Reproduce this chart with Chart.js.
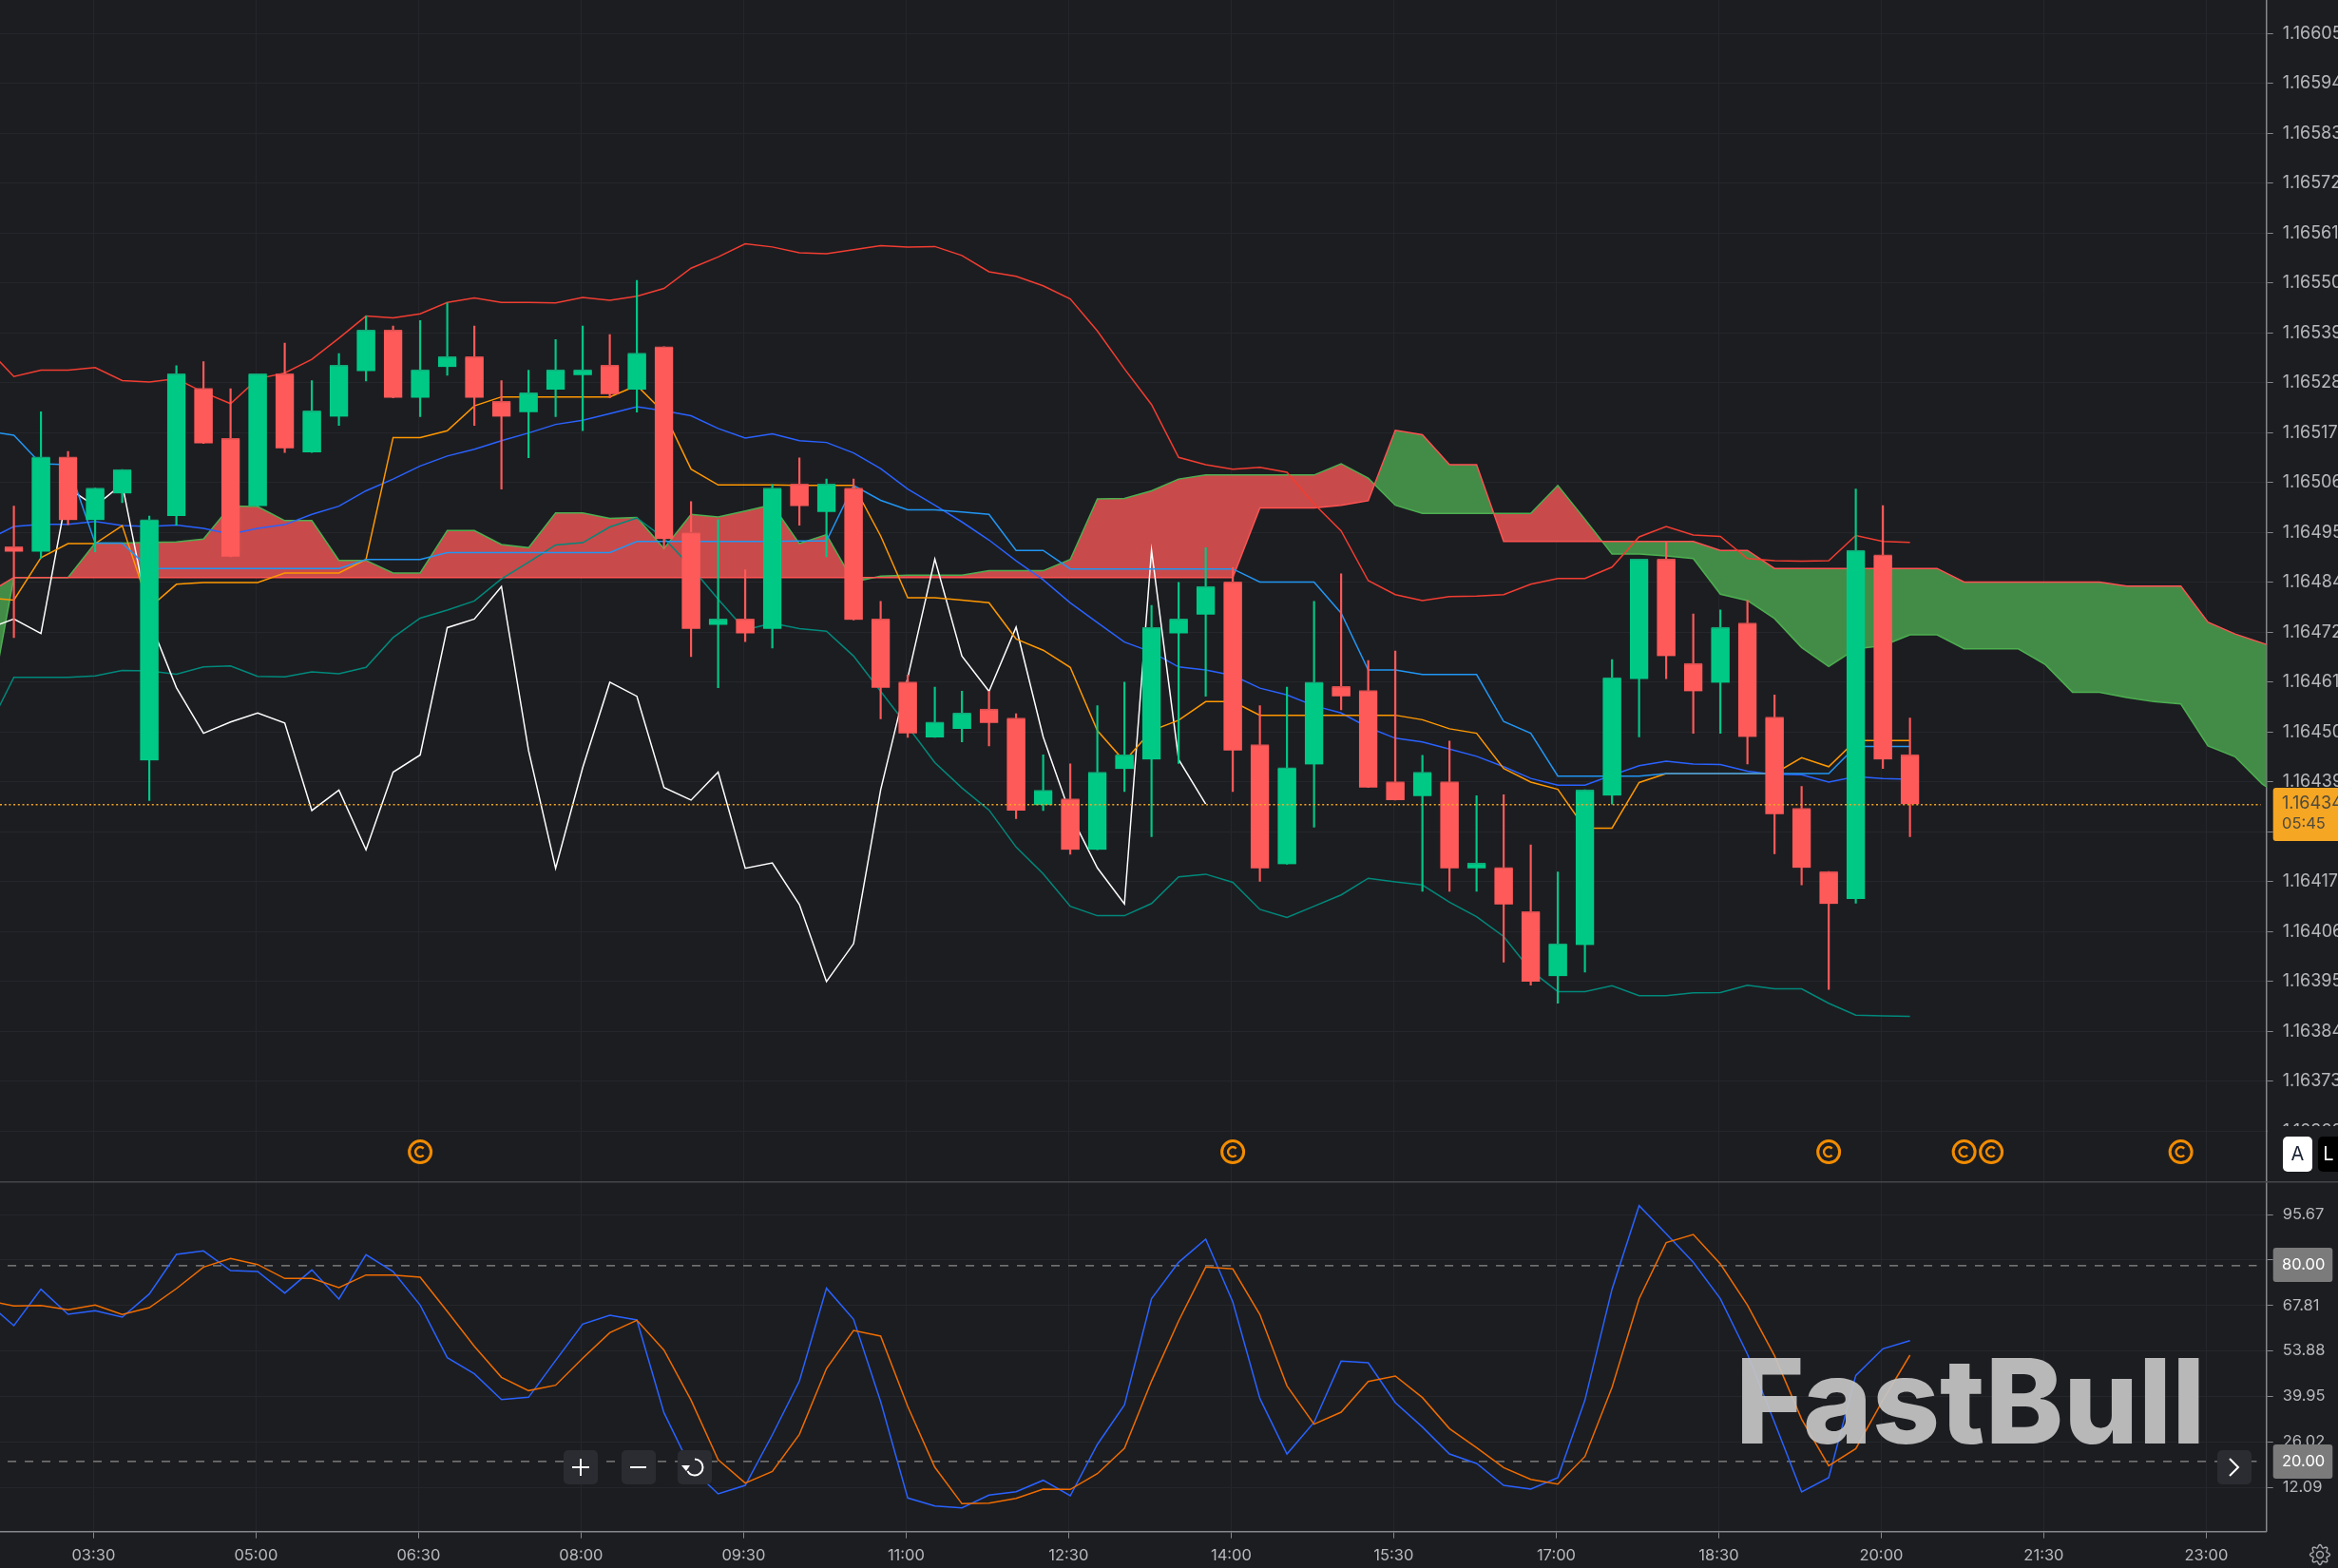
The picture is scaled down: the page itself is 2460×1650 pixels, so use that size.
<!DOCTYPE html>
<html>
<head>
<meta charset="utf-8">
<title>FastBull chart</title>
<script src="https://cdn.jsdelivr.net/npm/chart.js@4/dist/chart.umd.min.js"></script>
<style>
html,body{margin:0;padding:0;background:#1c1d21;overflow:hidden}
#wrap{position:relative;width:2460px;height:1650px}
canvas{position:absolute;left:0;display:block}
</style>
</head>
<body>
<div id="wrap">
<canvas id="price" width="2460" height="1243" style="top:0"></canvas>
<canvas id="osc" width="2460" height="407" style="top:1243px"></canvas>
</div>
<script>
// 15 minute bars, index 0 is the first candle on screen
var opens=[1.164914,1.164903,1.165113,1.164973,1.165032,1.164441,1.164982,1.165265,1.165154,1.165004,1.165297,1.165123,1.165202,1.165303,1.165394,1.165244,1.165312,1.165335,1.165236,1.165212,1.165262,1.165294,1.165316,1.165262,1.165357,1.164946,1.164741,1.164754,1.164732,1.165053,1.164991,1.165044,1.164754,1.164615,1.164492,1.164511,1.164555,1.164535,1.164342,1.164356,1.164243,1.164422,1.164443,1.164722,1.164764,1.164836,1.164476,1.164211,1.164432,1.164605,1.164596,1.164394,1.164362,1.164394,1.164202,1.164204,1.164106,1.163963,1.164032,1.164363,1.164621,1.164887,1.164656,1.164613,1.164745,1.164537,1.164335,1.164195,1.164134,1.164896,1.164454];
var closes=[1.164903,1.165113,1.164973,1.165044,1.165085,1.164974,1.165297,1.165143,1.164892,1.165297,1.165132,1.165215,1.165316,1.165394,1.165244,1.165306,1.165335,1.165244,1.165202,1.165255,1.165306,1.165306,1.165252,1.165343,1.164931,1.164732,1.164754,1.164722,1.165044,1.165004,1.165053,1.164752,1.164602,1.164501,1.164526,1.164546,1.164524,1.164330,1.164375,1.164243,1.164415,1.164453,1.164735,1.164754,1.164826,1.164463,1.164202,1.164425,1.164614,1.164583,1.164381,1.164353,1.164415,1.164202,1.164214,1.164122,1.163951,1.164035,1.164376,1.164624,1.164887,1.164672,1.164594,1.164736,1.164493,1.164322,1.164203,1.164123,1.164906,1.164443,1.164344];
var highs=[1.165004,1.165213,1.165125,1.165044,1.165085,1.164982,1.165315,1.165324,1.165264,1.165297,1.165365,1.165282,1.165342,1.165425,1.165403,1.165415,1.165454,1.165403,1.165282,1.165305,1.165373,1.165403,1.165384,1.165504,1.165357,1.165014,1.164974,1.164863,1.165052,1.165111,1.165064,1.165064,1.164793,1.164630,1.164603,1.164594,1.164594,1.164544,1.164453,1.164433,1.164562,1.164614,1.164784,1.164835,1.164912,1.164868,1.164562,1.164603,1.164793,1.164854,1.164662,1.164683,1.164452,1.164484,1.164363,1.164365,1.164254,1.164194,1.164376,1.164664,1.164887,1.164925,1.164765,1.164774,1.164795,1.164586,1.164383,1.164195,1.165042,1.165005,1.164535];
var lows=[1.164713,1.164888,1.164963,1.164903,1.165012,1.164352,1.164962,1.165143,1.164892,1.165004,1.165123,1.165123,1.165183,1.165281,1.165244,1.165202,1.165294,1.165183,1.165042,1.165111,1.165202,1.165171,1.165244,1.165212,1.164910,1.164671,1.164602,1.164704,1.164690,1.164962,1.164892,1.164752,1.164533,1.164492,1.164492,1.164482,1.164473,1.164312,1.164330,1.164233,1.164243,1.164372,1.164272,1.164434,1.164583,1.164372,1.164173,1.164211,1.164293,1.164553,1.164381,1.164353,1.164151,1.164151,1.164151,1.163994,1.163943,1.163903,1.163972,1.164344,1.164493,1.164622,1.164501,1.164501,1.164433,1.164234,1.164165,1.163934,1.164125,1.164423,1.164272];

// indicator lines start one bar before the first candle (bar -1)
var bbUpper=[1.165354,1.165291,1.165305,1.165305,1.165311,1.165282,1.165279,1.165286,1.165256,1.165231,1.165286,1.165299,1.165329,1.165376,1.165425,1.165421,1.165430,1.165455,1.165465,1.165455,1.165455,1.165454,1.165466,1.165460,1.165469,1.165486,1.165531,1.165556,1.165585,1.165578,1.165565,1.165563,1.165572,1.165581,1.165578,1.165579,1.165559,1.165523,1.165513,1.165492,1.165463,1.165392,1.165308,1.165229,1.165112,1.165096,1.165086,1.165090,1.165079,1.165009,1.164949,1.164839,1.164808,1.164795,1.164804,1.164805,1.164808,1.164831,1.164844,1.164844,1.164869,1.164936,1.164959,1.164940,1.164937,1.164888,1.164883,1.164882,1.164883,1.164939,1.164926,1.164924];
var bbMiddle=[1.164929,1.164959,1.164964,1.164964,1.164970,1.164961,1.164959,1.164962,1.164955,1.164942,1.164955,1.164963,1.164986,1.165004,1.165038,1.165064,1.165093,1.165115,1.165130,1.165149,1.165166,1.165185,1.165194,1.165209,1.165224,1.165215,1.165204,1.165176,1.165155,1.165164,1.165149,1.165145,1.165122,1.165087,1.165042,1.165006,1.164969,1.164929,1.164883,1.164841,1.164790,1.164746,1.164703,1.164681,1.164648,1.164641,1.164629,1.164601,1.164586,1.164562,1.164546,1.164514,1.164490,1.164482,1.164466,1.164450,1.164427,1.164401,1.164386,1.164386,1.164408,1.164429,1.164439,1.164433,1.164432,1.164417,1.164410,1.164409,1.164393,1.164405,1.164401,1.164399];
var bbLower=[1.164505,1.164625,1.164625,1.164625,1.164628,1.164640,1.164639,1.164632,1.164648,1.164650,1.164627,1.164626,1.164637,1.164633,1.164647,1.164713,1.164756,1.164774,1.164794,1.164843,1.164880,1.164918,1.164923,1.164958,1.164978,1.164933,1.164869,1.164798,1.164730,1.164745,1.164733,1.164727,1.164672,1.164594,1.164516,1.164436,1.164380,1.164331,1.164249,1.164190,1.164118,1.164097,1.164097,1.164124,1.164183,1.164189,1.164171,1.164111,1.164093,1.164118,1.164143,1.164180,1.164172,1.164165,1.164127,1.164095,1.164051,1.163976,1.163929,1.163929,1.163942,1.163920,1.163920,1.163926,1.163927,1.163943,1.163935,1.163935,1.163903,1.163877,1.163875,1.163874];
var conversion=[1.165170,1.165161,1.165098,1.165096,1.164922,1.164922,1.164866,1.164866,1.164866,1.164866,1.164866,1.164866,1.164866,1.164866,1.164886,1.164886,1.164886,1.164901,1.164901,1.164901,1.164901,1.164901,1.164901,1.164901,1.164926,1.164926,1.164926,1.164926,1.164926,1.164926,1.164927,1.164927,1.165050,1.165017,1.164996,1.164996,1.164991,1.164986,1.164906,1.164906,1.164865,1.164865,1.164865,1.164865,1.164865,1.164865,1.164865,1.164836,1.164836,1.164836,1.164767,1.164641,1.164641,1.164631,1.164631,1.164631,1.164527,1.164501,1.164406,1.164406,1.164406,1.164406,1.164412,1.164412,1.164412,1.164412,1.164412,1.164412,1.164412,1.164472,1.164472,1.164472];
var baseLine=[1.164801,1.164796,1.164890,1.164921,1.164921,1.164961,1.164779,1.164831,1.164835,1.164835,1.164835,1.164856,1.164856,1.164856,1.164886,1.165156,1.165156,1.165171,1.165226,1.165246,1.165246,1.165246,1.165246,1.165246,1.165271,1.165211,1.165086,1.165051,1.165051,1.165051,1.165050,1.165050,1.165050,1.164938,1.164801,1.164801,1.164796,1.164790,1.164710,1.164685,1.164647,1.164507,1.164439,1.164507,1.164530,1.164571,1.164571,1.164541,1.164541,1.164541,1.164541,1.164541,1.164541,1.164531,1.164511,1.164501,1.164423,1.164393,1.164377,1.164291,1.164291,1.164392,1.164412,1.164412,1.164412,1.164412,1.164412,1.164447,1.164427,1.164485,1.164485,1.164485];
var lagging=[1.164732,1.164754,1.164722,1.165044,1.165004,1.165053,1.164752,1.164602,1.164501,1.164526,1.164546,1.164524,1.164330,1.164375,1.164243,1.164415,1.164453,1.164735,1.164754,1.164826,1.164463,1.164202,1.164425,1.164614,1.164583,1.164381,1.164353,1.164415,1.164202,1.164214,1.164122,1.163951,1.164035,1.164376,1.164624,1.164887,1.164672,1.164594,1.164736,1.164493,1.164322,1.164203,1.164123,1.164906,1.164443,1.164344];
// cloud runs on past the last candle, to bar 84
var spanA=[1.164520,1.164846,1.164846,1.164846,1.164922,1.164922,1.164924,1.164925,1.164931,1.165004,1.165003,1.164972,1.164972,1.164884,1.164884,1.164856,1.164856,1.164950,1.164950,1.164919,1.164912,1.164989,1.164989,1.164977,1.164979,1.164910,1.164986,1.164980,1.164993,1.165007,1.164921,1.164941,1.164836,1.164849,1.164851,1.164851,1.164851,1.164861,1.164861,1.164861,1.164886,1.165020,1.165021,1.165038,1.165064,1.165073,1.165073,1.165073,1.165073,1.165073,1.165098,1.165066,1.165006,1.164988,1.164988,1.164988,1.164988,1.164988,1.165050,1.164975,1.164898,1.164898,1.164894,1.164888,1.164809,1.164795,1.164755,1.164691,1.164649,1.164688,1.164695,1.164719,1.164719,1.164688,1.164688,1.164688,1.164653,1.164592,1.164592,1.164580,1.164571,1.164566,1.164473,1.164449,1.164389,1.164348];
var spanB=[1.164810,1.164846,1.164846,1.164846,1.164846,1.164846,1.164846,1.164846,1.164846,1.164846,1.164846,1.164846,1.164846,1.164846,1.164846,1.164846,1.164846,1.164846,1.164846,1.164846,1.164846,1.164846,1.164846,1.164846,1.164846,1.164846,1.164846,1.164846,1.164846,1.164846,1.164846,1.164846,1.164846,1.164846,1.164846,1.164846,1.164846,1.164846,1.164846,1.164846,1.164846,1.164846,1.164846,1.164846,1.164846,1.164846,1.164846,1.165000,1.165000,1.165000,1.165006,1.165016,1.165172,1.165162,1.165096,1.165096,1.164926,1.164926,1.164926,1.164926,1.164926,1.164926,1.164926,1.164926,1.164906,1.164906,1.164866,1.164866,1.164866,1.164866,1.164866,1.164866,1.164866,1.164836,1.164836,1.164836,1.164836,1.164836,1.164836,1.164827,1.164827,1.164827,1.164747,1.164721,1.164701,1.164680];

// stochastic pane, also from bar -1
var stochK=[68.89,61.61,72.77,65.10,66.17,64.23,71.32,83.46,84.52,78.50,78.21,71.61,78.70,69.76,83.36,78.21,67.92,51.80,46.85,38.98,39.66,50.93,62.09,64.81,63.36,34.91,17.91,10.05,12.67,28.11,44.62,73.07,63.55,38.30,8.79,6.36,5.78,9.66,10.73,14.22,9.47,25.20,37.33,69.86,81.03,88.12,68.89,39.28,22.28,31.99,50.73,50.25,38.01,30.54,22.28,19.37,12.67,11.50,15.00,38.79,72.77,98.41,89.77,81.03,69.86,52.87,31.99,10.63,15.00,46.36,54.52,57.04];
var stochD=[69.38,67.63,67.82,66.46,67.92,65.01,67.14,72.97,79.57,82.19,80.35,76.08,76.08,73.26,77.14,77.14,76.46,65.98,55.30,45.78,41.70,43.35,51.61,59.47,63.26,54.13,38.79,20.54,13.35,16.94,28.30,48.50,60.15,58.40,36.85,18.20,7.04,7.23,8.69,11.50,11.41,16.26,24.03,44.62,63.06,79.57,78.99,65.01,43.16,31.41,35.10,44.52,46.17,39.57,30.05,24.22,18.11,14.51,13.06,21.51,42.67,69.86,87.05,89.57,80.54,67.92,52.38,32.96,18.69,23.93,38.79,52.58];
var stochLevels=[80,20];

var priceTicks=[1.16605,1.165940,1.165829,1.165719,1.165608,1.165498,1.165387,1.165277,1.165166,1.165056,1.164946,1.164836,1.164724,1.164614,1.164503,1.164393,1.164282,1.164172,1.164061,1.163951,1.163840,1.163730,1.163619];
var stochTicks=[95.67,81.74,67.81,53.88,39.95,26.02,12.09];
var timeLabels=['03:30','05:00','06:30','08:00','09:30','11:00','12:30','14:00','15:30','17:00','18:30','20:00','21:30','23:00'];
var timeBars=[2.94,8.94,14.94,20.94,26.94,32.94,38.94,44.94,50.94,56.94,62.94,68.94,74.94,80.94];
var eventBars=[15,45,67,72,73,80];
var eventPrice=1.163574;
var lastPrice=1.164343;

var BG='#1c1d21',GRID='#25262b',AXIS='#85878c',TEXT='#b6b8bc',UP='#00c986',DOWN='#ff5a5a',UPEDGE='#12a877',DOWNEDGE='#d94f4f';
var FONT='Inter, Roboto, sans-serif';
var XMIN=-0.5123,XMAX=83.16;

function pts(vals,start){
    return vals.map(function(v,i){return {x:i+start,y:v};});
}
function line(label,vals,color,order){
    return {type:'line',label:label,data:pts(vals,-1),borderColor:color,borderWidth:1.5,pointRadius:0,fill:false,tension:0,order:order};
}
function xAxis(showLabels){
    return {
        type:'linear',min:XMIN,max:XMAX,offset:false,
        grid:{offset:false,color:GRID,lineWidth:1,drawTicks:showLabels,tickLength:7,tickColor:AXIS},
        border:{display:showLabels,color:AXIS,width:1.5},
        ticks:{display:showLabels,color:TEXT,font:{family:FONT,size:16.5},padding:8,maxRotation:0,autoSkip:false,
            callback:function(v,i){return timeLabels[i];}},
        afterBuildTicks:function(s){s.ticks=timeBars.map(function(b){return {value:b};});},
        afterFit:function(s){s.height=showLabels?38.3:0;s.paddingLeft=0;s.paddingRight=0;}
    };
}
function yAxis(min,max,list,size,fmt){
    return {
        position:'right',min:min,max:max,
        grid:{color:GRID,lineWidth:1,tickLength:7,tickColor:AXIS},
        border:{color:AXIS,width:1.5},
        ticks:{color:TEXT,font:{family:FONT,size:size},padding:10,autoSkip:false,callback:fmt},
        afterBuildTicks:function(s){s.ticks=list.map(function(v){return {value:v};});},
        afterFit:function(s){s.width=75.3;s.paddingTop=0;s.paddingBottom=0;}
    };
}
function box(ctx,x,y,w,h,r,color){
    ctx.fillStyle=color;
    ctx.beginPath();
    ctx.roundRect(x,y,w,h,r);
    ctx.fill();
}

var priceOverlay={
    id:'priceOverlay',
    afterDraw:function(chart){
        var ctx=chart.ctx,sx=chart.scales.x,sy=chart.scales.y;
        ctx.save();
        eventBars.forEach(function(b){
            var x=sx.getPixelForValue(b),y=sy.getPixelForValue(eventPrice);
            ctx.strokeStyle='#f28c00';
            ctx.lineWidth=3;
            ctx.beginPath();ctx.arc(x,y,11.5,0,Math.PI*2);ctx.stroke();
            ctx.lineWidth=2.5;
            ctx.beginPath();ctx.arc(x,y,5,Math.PI*0.25,Math.PI*1.75,false);ctx.stroke();
        });
        // hide the cut off tick label behind the A / L buttons
        ctx.fillStyle=BG;
        ctx.fillRect(2386,1185,74,58);
        box(ctx,2402,1196,31,37,5,'#ffffff');
        box(ctx,2439,1196,40,37,5,'#000000');
        ctx.font='20px '+FONT;
        ctx.textBaseline='middle';
        ctx.textAlign='center';
        ctx.fillStyle='#1a2233';
        ctx.fillText('A',2417.5,1215);
        ctx.fillStyle='#ffffff';
        ctx.fillText('L',2450,1215);
        // last price tag
        box(ctx,2391.7,829,80,56,3,'#f5a623');
        ctx.textAlign='left';
        ctx.fillStyle='#4f4a3c';
        ctx.font='18px '+FONT;
        ctx.fillText(lastPrice.toFixed(5),2401,846);
        ctx.font='16.5px '+FONT;
        ctx.fillText('05:45',2401,867);
        ctx.restore();
    }
};

var oscOverlay={
    id:'oscOverlay',
    afterDraw:function(chart){
        var ctx=chart.ctx,top=1243;
        ctx.save();
        // watermark sits over the lines
        ctx.fillStyle='rgba(196,196,196,0.93)';
        ctx.font='800 124px Inter, sans-serif';
        ctx.textAlign='left';
        ctx.textBaseline='alphabetic';
        ctx.fillText('FastBull',1826,1519-top,498);
        // separator between the panes
        ctx.fillStyle='#45464b';
        ctx.fillRect(0,0,2460,1.5);
        // level tags
        [[1313,'80.00'],[1520,'20.00']].forEach(function(t){
            box(ctx,2391.7,t[0]-top,62.6,36,3,'#7b7b7b');
            ctx.fillStyle='#ffffff';
            ctx.font='16.5px '+FONT;
            ctx.textBaseline='middle';
            ctx.fillText(t[1],2401,t[0]-top+18);
        });
        // zoom buttons
        [593,654,713,2333].forEach(function(x){
            box(ctx,x,1526-top,36,36,5,'#2b2c31');
        });
        var my=1544-top;
        ctx.strokeStyle='#ffffff';
        ctx.lineWidth=2;
        ctx.beginPath();
        ctx.moveTo(602,my);ctx.lineTo(620,my);ctx.moveTo(611,my-9);ctx.lineTo(611,my+9);
        ctx.moveTo(663,my);ctx.lineTo(680,my);
        ctx.moveTo(2346,my-9);ctx.lineTo(2355,my);ctx.lineTo(2346,my+9);
        ctx.stroke();
        ctx.beginPath();
        ctx.arc(731,my,8.5,-Math.PI*0.5,Math.PI*0.85,false);
        ctx.stroke();
        ctx.fillStyle='#ffffff';
        ctx.beginPath();
        ctx.moveTo(717,my-2);ctx.lineTo(726,my-2);ctx.lineTo(722,my+4);ctx.closePath();
        ctx.fill();
        // settings gear
        var gx=2441,gy=1636-top;
        ctx.strokeStyle='#a9abb0';
        ctx.lineWidth=1.4;
        ctx.beginPath();
        for(var a=0;a<=96;a++){
            var ang=a/96*Math.PI*2,r=9+1.5*Math.cos(ang*8);
            var px=gx+Math.cos(ang)*r,py=gy+Math.sin(ang)*r;
            if(a===0){ctx.moveTo(px,py);}else{ctx.lineTo(px,py);}
        }
        ctx.closePath();
        ctx.stroke();
        ctx.beginPath();ctx.arc(gx,gy,3.5,0,Math.PI*2);ctx.stroke();
        ctx.restore();
    }
};

var barColors=closes.map(function(c,i){return c>=opens[i]?UP:DOWN;});
var edgeColors=closes.map(function(c,i){return c>=opens[i]?UPEDGE:DOWNEDGE;});

new Chart(document.getElementById('price').getContext('2d'),{
    data:{datasets:[
        {type:'line',label:'Span A',data:pts(spanA,-1),borderColor:'#4caf50',borderWidth:1.5,pointRadius:0,tension:0,order:9,
            fill:{target:1,above:'#c94a4a',below:'#438c47'}},
        {type:'line',label:'Span B',data:pts(spanB,-1),borderColor:'#ff5252',borderWidth:1.5,pointRadius:0,tension:0,fill:false,order:8},
        line('Upper',bbUpper,'#f23d31',6),
        line('Middle',bbMiddle,'#2962ff',6),
        line('Lower',bbLower,'#00897b',6),
        line('Conversion',conversion,'#2196f3',5),
        line('Base',baseLine,'#ff9800',5),
        line('Lagging',lagging,'#ffffff',5),
        {type:'bar',label:'Wick',data:lows.map(function(v,i){return {x:i,y:[v,highs[i]]};}),backgroundColor:barColors,barThickness:1.5,grouped:false,order:3},
        {type:'bar',label:'Body',data:opens.map(function(v,i){return {x:i,y:[v,closes[i]]};}),backgroundColor:barColors,
            borderColor:edgeColors,borderWidth:{top:1.5,right:0,bottom:0,left:0},borderSkipped:false,barThickness:19.5,grouped:false,order:2},
        {type:'line',label:'Last',data:[{x:XMIN,y:lastPrice},{x:82.95,y:lastPrice}],borderColor:'#f5a623',borderWidth:1.5,borderDash:[2,2.7],pointRadius:0,fill:false,order:1}
    ]},
    options:{
        responsive:false,devicePixelRatio:1,animation:false,
        layout:{padding:0},
        plugins:{legend:{display:false},tooltip:{enabled:false}},
        scales:{
            x:xAxis(false),
            y:yAxis(1.163509,1.16612492,priceTicks,18,function(v){return v.toFixed(5);})
        }
    },
    plugins:[priceOverlay]
});

new Chart(document.getElementById('osc').getContext('2d'),{
    data:{datasets:[
        {type:'line',label:'80',data:[{x:-0.23,y:stochLevels[0]},{x:82.8,y:stochLevels[0]}],borderColor:'#7b7b7b',borderWidth:1.5,borderDash:[9,9],pointRadius:0,fill:false,order:5},
        {type:'line',label:'20',data:[{x:-0.23,y:stochLevels[1]},{x:82.8,y:stochLevels[1]}],borderColor:'#7b7b7b',borderWidth:1.5,borderDash:[9,9],pointRadius:0,fill:false,order:5},
        line('%K',stochK,'#2962ff',3),
        line('%D',stochD,'#ef6c00',2)
    ]},
    options:{
        responsive:false,devicePixelRatio:1,animation:false,
        layout:{padding:0},
        plugins:{legend:{display:false},tooltip:{enabled:false}},
        scales:{
            x:xAxis(true),
            y:yAxis(-1.51,105.88,stochTicks,16.5,function(v){return v.toFixed(2);})
        }
    },
    plugins:[oscOverlay]
});
</script>
</body>
</html>
